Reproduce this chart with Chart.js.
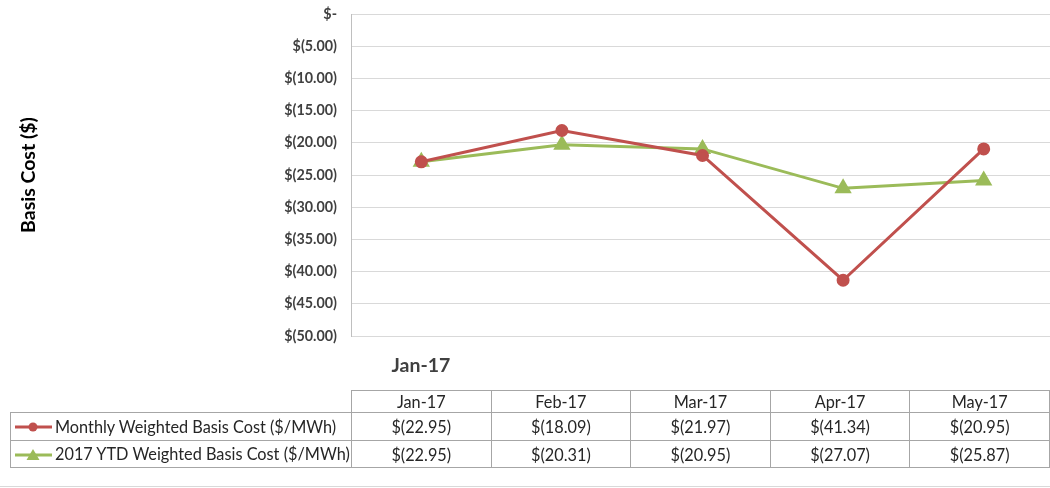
<!DOCTYPE html>
<html><head><meta charset="utf-8">
<script src="https://cdn.jsdelivr.net/npm/chart.js@4.4.1/dist/chart.umd.min.js"></script>
<style>
html,body{margin:0;padding:0;background:#fff;overflow:hidden;width:1050px;height:488px;}
#wrap{position:absolute;left:0;top:0;width:1054px;height:488px;}
#xlab{position:absolute;left:371px;top:353px;width:100px;text-align:center;font:bold 19.5px Lato,"Open Sans",sans-serif;color:#404040;}
table{position:absolute;border-collapse:collapse;font:16.3px Lato,"Open Sans",sans-serif;color:#262626;table-layout:fixed;}
td{border:1px solid #a6a6a6;text-align:center;padding:0;white-space:nowrap;overflow:hidden;}
td.blank{border:none;border-right:1px solid #a6a6a6;}
td.leg{text-align:left;padding-left:4px;}
td.leg svg{vertical-align:middle;margin-right:2px;position:relative;top:-1px;}
#bline{position:absolute;left:0;top:486px;width:1050px;height:1px;background:#d9d9d9;}
</style></head>
<body>
<div id="wrap"><canvas id="c" width="1054" height="488"></canvas></div>
<div id="xlab">Jan-17</div>
<table id="tbl"></table>
<div id="bline"></div>
<script>
const categories = ['Jan-17','Feb-17','Mar-17','Apr-17','May-17'];
const monthly = [-22.95,-18.09,-21.97,-41.34,-20.95];
const ytd = [-22.95,-20.31,-20.95,-27.07,-25.87];
const seriesNames = ['Monthly Weighted Basis Cost ($/MWh)','2017 YTD Weighted Basis Cost ($/MWh)'];
const yTicks = [0,-5,-10,-15,-20,-25,-30,-35,-40,-45,-50];

const RED = '#C0504D', GREEN = '#9BBB59';
function fmt(v){ if (v===0) return '$-'; return '$(' + Math.abs(v).toFixed(2) + ')'; }

const chart = new Chart(document.getElementById('c'), {
  type: 'line',
  data: {
    labels: categories,
    datasets: [
      {label: seriesNames[0], data: monthly, borderColor: RED, backgroundColor: RED, borderWidth: 3,
       pointStyle: 'circle', pointRadius: 5, pointHoverRadius: 5, tension: 0},
      {label: seriesNames[1], data: ytd, borderColor: GREEN, backgroundColor: GREEN, borderWidth: 3,
       pointStyle: 'triangle', pointRadius: 7, pointHoverRadius: 7, tension: 0}
    ]
  },
  options: {
    responsive: false, animation: false,
    layout: {autoPadding: false, padding: {top: 14, bottom: 152, left: 0, right: 0}},
    plugins: {legend: {display: false}, tooltip: {enabled: false}},
    scales: {
      x: {display: false, offset: true},
      y: {
        min: -50, max: 0,
        afterFit: s => { s.width = 351; },
        afterBuildTicks: s => { s.ticks = yTicks.map(v => ({value: v})); },
        ticks: {callback: v => fmt(v), padding: 0, color: '#404040',
                font: {family: 'Lato, "Open Sans", sans-serif', size: 14.3, weight: 'bold'}},
        grid: {color: '#d9d9d9', lineWidth: 1, drawTicks: true, tickLength: 14, tickColor: 'rgba(0,0,0,0)'},
        border: {color: '#bfbfbf', width: 1},
        title: {display: true, text: 'Basis Cost ($)', color: '#000',
                font: {family: 'Lato, "Open Sans", sans-serif', size: 19.5, weight: 'bold'},
                padding: {top: 17, bottom: 0}}
      }
    }
  }
});

// data table below the chart
const tbl = document.getElementById('tbl');
const ca = chart.chartArea;
const colW = (ca.right - ca.left) / categories.length;
tbl.style.left = '10px';
tbl.style.top = '390px';
const legW = ca.left - 10;
function icon(color, style){
  const marker = style === 'circle'
    ? `<circle cx="18" cy="8" r="4.5" fill="${color}"/>`
    : `<polygon points="18,2 24.5,13 11.5,13" fill="${color}"/>`;
  return `<svg width="38" height="16"><line x1="0" y1="8" x2="37" y2="8" stroke="${color}" stroke-width="3"/>${marker}</svg>`;
}
let html = `<colgroup><col style="width:${legW}px">` + categories.map(() => `<col style="width:${colW}px">`).join('') + '</colgroup>';
html += `<tr style="height:22px"><td class="blank"></td>` +
  categories.map(c => `<td>${c}</td>`).join('') + '</tr>';
const rows = [[monthly, RED, 'circle'], [ytd, GREEN, 'triangle']];
rows.forEach((r, i) => {
  html += `<tr style="height:${i===0?28:27}px"><td class="leg">${icon(r[1], r[2])}${seriesNames[i]}</td>` +
    r[0].map(v => `<td>${fmt(v)}</td>`).join('') + '</tr>';
});
tbl.innerHTML = html;
</script>
</body></html>
